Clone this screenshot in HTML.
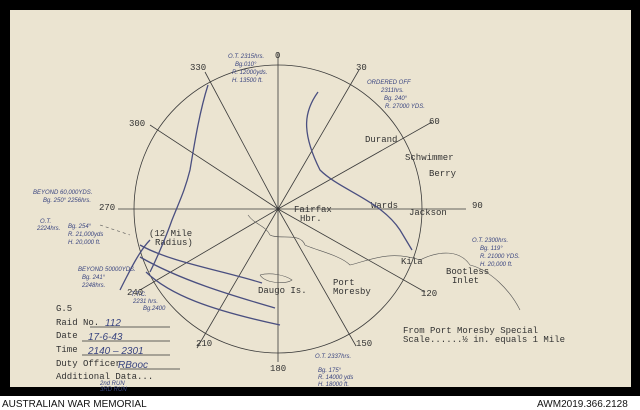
<!DOCTYPE html>
<html><head><meta charset="utf-8"><style>
html,body{margin:0;padding:0;width:640px;height:410px;overflow:hidden;background:#000}
svg{display:block}
.t{font-family:"Liberation Mono",monospace;font-size:9px;fill:#333}
.h{font-family:"Liberation Sans",sans-serif;font-size:6px;fill:#3a4580;font-style:italic}
.hl{font-family:"Liberation Sans",sans-serif;font-size:10px;fill:#3a4580;font-style:italic}
</style></head><body>
<svg width="640" height="410" viewBox="0 0 640 410">
<rect x="0" y="0" width="640" height="410" fill="#000"/>
<rect x="0" y="396" width="640" height="14" fill="#fff"/>
<text x="2" y="407" font-family="Liberation Sans,sans-serif" font-size="10" fill="#111">AUSTRALIAN WAR MEMORIAL</text>
<text x="537" y="407" font-family="Liberation Sans,sans-serif" font-size="10" fill="#111">AWM2019.366.2128</text>
<rect x="10" y="10" width="621" height="377" fill="#ebe4d1"/>
<g stroke="#3a3a3a" stroke-width="0.8" fill="none">
<circle cx="278" cy="209" r="144"/>
<line x1="278" y1="209" x2="278" y2="52"/>
<line x1="278" y1="209" x2="278" y2="362"/>
<line x1="278" y1="209" x2="466" y2="209"/>
<line x1="278" y1="209" x2="118" y2="209"/>
<line x1="278" y1="209" x2="359" y2="70"/>
<line x1="278" y1="209" x2="197" y2="348"/>
<line x1="278" y1="209" x2="432" y2="122"/>
<line x1="278" y1="209" x2="140" y2="290"/>
<line x1="278" y1="209" x2="205" y2="72"/>
<line x1="278" y1="209" x2="356" y2="346"/>
<line x1="278" y1="209" x2="150" y2="125"/>
<line x1="278" y1="209" x2="425" y2="292"/>
</g>
<g class="t">
<text x="275" y="58">0</text><text x="356" y="70">30</text><text x="429" y="124">60</text>
<text x="472" y="208">90</text><text x="421" y="296">120</text><text x="356" y="346">150</text>
<text x="270" y="371">180</text><text x="196" y="346">210</text><text x="127" y="295">240</text>
<text x="99" y="210">270</text><text x="129" y="126">300</text><text x="190" y="70">330</text>
<text x="365" y="142">Durand</text><text x="405" y="160">Schwimmer</text><text x="429" y="176">Berry</text>
<text x="371" y="208">Wards</text><text x="409" y="215">Jackson</text>
<text x="294" y="212">Fairfax</text><text x="300" y="221">Hbr.</text>
<text x="333" y="285">Port</text><text x="333" y="294">Moresby</text><text x="401" y="264">Kila</text>
<text x="446" y="274">Bootless</text><text x="452" y="283">Inlet</text>
<text x="258" y="293">Daugo Is.</text>
<text x="149" y="236">(12 Mile</text><text x="155" y="245">Radius)</text>
<text x="403" y="333">From Port Moresby Special</text>
<text x="403" y="342">Scale......½ in. equals 1 Mile</text>
<text x="56" y="311">G.5</text>
<text x="56" y="325">Raid No.</text><text x="56" y="338">Date</text><text x="56" y="352">Time</text>
<text x="56" y="366">Duty Officer</text><text x="56" y="379">Additional Data...</text>
</g>
<g stroke="#333" stroke-width="0.8">
<line x1="90" y1="327" x2="170" y2="327"/><line x1="82" y1="341" x2="170" y2="341"/>
<line x1="82" y1="355" x2="170" y2="355"/><line x1="120" y1="369" x2="180" y2="369"/>
</g>
<g class="hl"><text x="105" y="326">112</text><text x="88" y="340">17-6-43</text><text x="88" y="354">2140 – 2301</text><text x="118" y="368">RBooc</text></g>
<g class="h">
<text x="100" y="385">2nd RUN</text><text x="100" y="391">3RD RUN</text>
<text x="367" y="84">ORDERED OFF</text><text x="381" y="92">2311hrs.</text><text x="384" y="100">Bg. 240°</text><text x="385" y="108">R. 27000 YDS.</text>
<text x="228" y="58">O.T. 2315hrs.</text><text x="235" y="66">Bg.010°</text><text x="232" y="74">R. 12000yds.</text><text x="232" y="82">H. 13500 ft.</text>
<text x="33" y="194">BEYOND 60,000YDS.</text><text x="43" y="202">Bg. 250° 2256hrs.</text>
<text x="40" y="223">O.T.</text><text x="37" y="230">2224hrs.</text>
<text x="68" y="228">Bg. 254°</text><text x="68" y="236">R. 21,000yds</text><text x="68" y="244">H. 20,000 ft.</text>
<text x="78" y="271">BEYOND 50000YDS.</text><text x="82" y="279">Bg. 241°</text><text x="82" y="287">2248hrs.</text>
<text x="131" y="296">T.T.C.</text><text x="133" y="303">2231 hrs.</text><text x="143" y="310">Bg.2400</text>
<text x="472" y="242">O.T. 2300hrs.</text><text x="480" y="250">Bg. 119°</text><text x="480" y="258">R. 21000 YDS.</text><text x="480" y="266">H. 20,000 ft.</text>
<text x="315" y="358">O.T. 2337hrs.</text><text x="318" y="372">Bg. 175°</text><text x="318" y="379">R. 14000 yds</text><text x="318" y="386">H. 18000 ft.</text>
</g>
<g fill="none" stroke="#4a4f80" stroke-width="1.3">
<path d="M318 92 C305 110 300 130 320 170 C340 190 380 200 400 230 L412 250"/>
<path d="M208 85 C200 110 195 140 190 170 C185 190 180 200 172 220 C165 240 155 262 150 272"/>
<path d="M140 245 C170 262 220 270 262 283"/>
<path d="M140 257 C180 280 230 295 275 308"/>
<path d="M146 272 C170 295 210 310 280 325"/>
<path d="M120 290 C130 270 140 250 150 240"/>
</g>
<g fill="none" stroke="#555" stroke-width="0.6">
<path d="M248 215 C255 225 265 225 270 235 C280 240 300 232 305 245 C315 250 340 255 350 265 C370 260 390 250 420 260 C440 250 460 250 470 265 C490 270 510 290 520 310"/>
<path d="M260 275 C270 272 285 275 292 280 C285 285 265 283 260 275"/>
<path d="M100 225 L130 235" stroke-dasharray="3 3"/>
</g>
</svg>
</body></html>
